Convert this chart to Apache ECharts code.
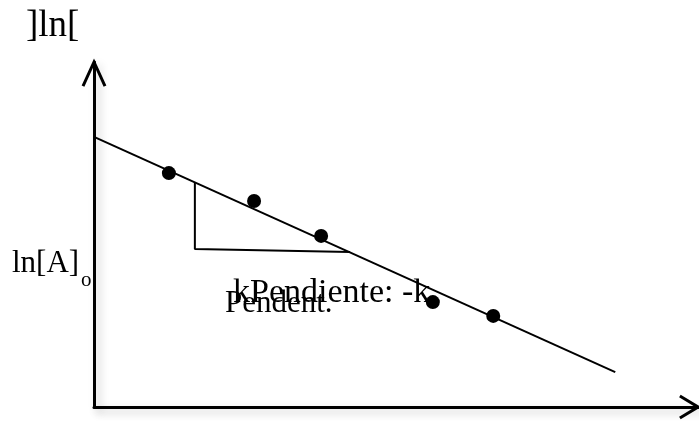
<!DOCTYPE html>
<html>
<head>
<meta charset="utf-8">
<script src="https://cdn.jsdelivr.net/npm/echarts@6/dist/echarts.min.js"></script>
<style>
  html, body { margin: 0; padding: 0; background: #fff; }
  #chart { width: 699px; height: 421px; }
</style>
</head>
<body>
<div id="chart"></div>
<script>
// Measured concentrations (ln[A]) against time, arbitrary units
const times = [12.4, 26.5, 37.6, 56.1, 66.1];
const lnA = [67.8, 59.7, 49.6, 30.4, 26.4];

// Fitted straight line (endpoints)
const fitX = [0, 86.3];
const fitY = [78.3, 10.1];

// Slope triangle: corner points
const triX = [16.7, 16.7, 42.4];
const triY = [65.2, 45.8, 44.9];

// Open arrowheads at the ends of both axes
const yArrowX = [-1.82, 0, 1.82];
const yArrowY = [93.0, 100, 93.0];
const xArrowX = [97.0, 100, 97.0];
const xArrowY = [3.2, 0, -3.2];

const pair = (xs, ys) => xs.map((x, i) => [x, ys[i]]);

// Polyline drawn through the cartesian scales (used for the arrowheads)
function polylineSeries(xs, ys) {
  return {
    type: 'custom',
    coordinateSystem: 'cartesian2d',
    clip: false,
    data: [0],
    renderItem: function (params, api) {
      const pts = xs.map((x, i) => api.coord([x, ys[i]]));
      return {
        type: 'polyline',
        shape: { points: pts },
        style: { stroke: '#000', lineWidth: 3, fill: null, lineJoin: 'miter' }
      };
    },
    z: 4
  };
}

const chart = echarts.init(document.getElementById('chart'));
const serif = '"Liberation Serif", "DejaVu Serif", serif';
const axisStyle = {
  color: '#000', width: 3,
  shadowColor: 'rgba(0,0,0,0.22)', shadowBlur: 8, shadowOffsetX: 4, shadowOffsetY: 4
};

chart.setOption({
  animation: false,
  backgroundColor: '#fff',
  grid: { left: 94, top: 62, width: 604, height: 345 },
  xAxis: {
    type: 'value', min: 0, max: 100,
    axisLine: { show: true, onZero: false, lineStyle: axisStyle },
    axisTick: { show: false }, axisLabel: { show: false }, splitLine: { show: false }
  },
  yAxis: {
    type: 'value', min: 0, max: 100,
    axisLine: { show: true, onZero: false, lineStyle: axisStyle },
    axisTick: { show: false }, axisLabel: { show: false }, splitLine: { show: false }
  },
  series: [
    {
      type: 'line', data: pair(fitX, fitY), symbol: 'none', clip: false,
      lineStyle: { color: '#000', width: 2 }
    },
    {
      type: 'line', data: pair(triX, triY), symbol: 'none', clip: false,
      lineStyle: { color: '#000', width: 2 }
    },
    polylineSeries(yArrowX, yArrowY),
    polylineSeries(xArrowX, xArrowY),
    {
      type: 'scatter', data: pair(times, lnA), symbol: 'circle', symbolSize: 14,
      itemStyle: { color: '#000', opacity: 1 }, z: 5
    }
  ],
  graphic: [
    { type: 'text', left: 26, top: 8, style: { text: ']ln[', font: '37px ' + serif, fill: '#000' } },
    { type: 'text', left: 12, top: 248, style: { text: 'ln[A]', font: '31px ' + serif, fill: '#000' } },
    { type: 'text', left: 81, top: 270, style: { text: 'o', font: '21px ' + serif, fill: '#000' } },
    { type: 'text', left: 225, top: 288, style: { text: 'Pendent.', font: '31px ' + serif, fill: '#000' } },
    { type: 'text', left: 233, top: 276, style: { text: 'kPendiente: -k', font: '34px ' + serif, fill: '#000' } }
  ]
});
</script>
</body>
</html>
